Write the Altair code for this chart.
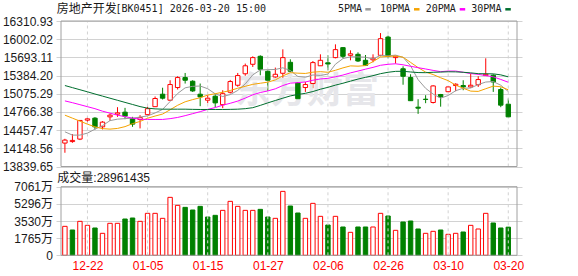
import altair as alt
import pandas as pd
import numpy as np

# ---------------- data ----------------
dates = ["12-17", "12-18", "12-19", "12-22", "12-23", "12-24", "12-25", "12-26", "12-29", "12-30", "12-31",
         "01-05", "01-06", "01-07", "01-08", "01-09", "01-12", "01-13", "01-14", "01-15", "01-16",
         "01-19", "01-20", "01-21", "01-22", "01-23", "01-26", "01-27", "01-28", "01-29", "01-30",
         "02-02", "02-03", "02-04", "02-05", "02-06", "02-09", "02-10", "02-11", "02-12", "02-13",
         "02-24", "02-25", "02-26", "02-27",
         "03-02", "03-03", "03-04", "03-05", "03-06", "03-09", "03-10", "03-11", "03-12", "03-13",
         "03-16", "03-17", "03-18", "03-19", "03-20"]

open_ = [14237.4, 14262.8, 14305.1, 14627.0, 14660.9, 14513.5, 14682.9, 14728.6, 14762.5, 14652.4,
         14638.9, 14720.2, 14855.7, 15067.4, 14965.8, 15180.9, 15350.3, 15287.7, 15067.4, 14965.8,
         15033.6, 14889.6, 15101.3, 15219.9, 15414.7, 15575.6, 15711.2, 15457.1, 15360.5, 15423.2,
         15609.5, 15258.9, 15180.9, 15248.7, 15550.2, 15601.0, 15689.1, 15858.5, 15728.1, 15745.0,
         15643.4, 15651.9, 15728.1, 16038.1, 15689.1, 15499.4, 15350.3, 14847.2, 14982.7, 14926.8,
         15062.4, 15109.8, 15214.8, 15214.8, 15191.1, 15228.4, 15384.2, 15389.3, 15147.1, 14898.0]
high = [14310.2, 14389.8, 14627.0, 14682.9, 14677.8, 14610.1, 14740.5, 14847.2, 14835.4, 14682.9,
        14711.7, 14855.7, 15028.5, 15177.5, 15304.6, 15372.4, 15428.3, 15304.6, 15248.7, 15050.5,
        15067.4, 15135.2, 15309.7, 15428.3, 15587.5, 15711.2, 15728.1, 15474.0, 15519.7, 15829.7,
        15660.3, 15321.5, 15275.8, 15631.5, 15745.0, 15728.1, 15914.4, 15868.7, 15812.8, 15778.9,
        15733.2, 15745.0, 16105.9, 16061.8, 15716.2, 15541.8, 15406.2, 14982.7, 15050.5, 15219.9,
        15072.5, 15197.9, 15253.8, 15304.6, 15418.1, 15372.4, 15677.3, 15406.2, 15180.9, 14994.6]
low = [14073.1, 14242.5, 14288.0, 14581.3, 14469.5, 14469.5, 14615.1, 14682.9, 14643.9, 14513.5,
       14486.4, 14711.7, 14852.3, 14977.7, 14957.3, 15147.1, 15248.7, 15106.4, 14864.2, 14915.0,
       14847.2, 14830.3, 15079.3, 15194.5, 15380.8, 15529.9, 15389.3, 15123.3, 15296.1, 15279.2,
       15275.8, 14982.7, 15106.4, 15169.1, 15546.8, 15474.0, 15677.3, 15677.3, 15643.4, 15614.6,
       15546.8, 15609.5, 15711.2, 15677.3, 15587.5, 15228.4, 14953.9, 14733.7, 14915.0, 14909.9,
       14855.7, 15106.4, 15118.3, 15135.2, 15180.9, 15191.1, 15380.8, 15106.4, 14847.2, 14682.9]
close = [14288.2, 14283.0, 14621.9, 14649.0, 14513.5, 14593.1, 14711.7, 14750.7, 14694.8, 14559.2,
         14672.7, 14821.8, 14994.6, 14999.7, 15231.8, 15350.3, 15304.6, 15123.3, 15021.7, 14999.7,
         14920.1, 15075.9, 15282.6, 15384.2, 15550.2, 15689.1, 15490.9, 15304.6, 15406.2, 15689.1,
         15457.1, 14991.2, 15231.8, 15604.4, 15643.4, 15580.7, 15824.7, 15711.2, 15753.5, 15631.5,
         15558.7, 15677.3, 16011.0, 15711.2, 15714.5, 15372.4, 14957.3, 14830.3, 14977.7, 15208.0,
         15021.7, 15191.1, 15236.8, 15191.1, 15219.9, 15316.5, 15406.2, 15275.8, 14881.1, 14682.9]

# volume in 万 (10k shares)
volume = [2982, 2605, 3496, 3085, 2811, 2262, 3291, 3291, 3736, 3839,
          3496, 4319, 4319, 3805, 5964, 5141, 4936, 4662, 5039, 3942,
          4113, 4627, 5553, 5039, 4627, 4627, 4730, 3942, 3805, 6581,
          5073, 4353, 3805, 5347, 4010, 3119, 4010, 2913, 2365, 2913,
          2913, 2913, 4319, 4045, 2571, 3428, 3530, 2708, 2262, 2468,
          2605, 2159, 2262, 2399, 3085, 2708, 4319, 3325, 2811, 2896.14]
vol_dir = ["up", "down", "up", "up", "down", "up", "up", "up", "down", "down",
           "up", "up", "up", "up", "up", "up", "down", "down", "down", "down",
           "down", "up", "up", "up", "up", "up", "down", "down", "up", "up",
           "down", "down", "up", "up", "up", "down", "up", "down", "up", "down",
           "down", "up", "up", "down", "up", "down", "down", "down", "up", "up",
           "down", "up", "up", "down", "up", "up", "up", "down", "down", "down"]

ma5 = [14428.8, 14372.9, 14372.9, 14406.8, 14472.9, 14533.8, 14618.5, 14643.9, 14652.4, 14662.6,
       14677.8, 14699.8, 14749.0, 14810.0, 14943.8, 15079.3, 15175.9, 15201.3, 15206.3, 15160.6,
       15074.2, 15028.5, 15060.7, 15131.8, 15241.9, 15396.1, 15479.1, 15484.2, 15487.6, 15516.3,
       15468.9, 15369.0, 15355.4, 15394.4, 15385.9, 15409.6, 15577.3, 15672.2, 15702.7, 15701.0,
       15695.9, 15667.1, 15726.4, 15717.9, 15731.5, 15694.2, 15550.2, 15314.8, 15167.4, 15069.1,
       14999.7, 15045.4, 15126.7, 15169.1, 15172.5, 15231.8, 15274.1, 15282.6, 15219.9, 15113.2]
ma10 = [14711.7, 14660.9, 14610.1, 14559.2, 14513.5, 14483.0, 14474.5, 14486.4, 14516.9, 14567.7,
        14605.0, 14659.2, 14696.5, 14730.3, 14803.2, 14879.4, 14938.7, 14976.0, 15008.1, 15052.2,
        15075.9, 15101.3, 15130.1, 15169.1, 15201.3, 15235.1, 15253.8, 15272.4, 15309.7, 15379.1,
        15433.3, 15424.9, 15419.8, 15441.8, 15450.3, 15440.1, 15474.0, 15514.7, 15548.5, 15543.5,
        15553.6, 15621.4, 15699.3, 15709.5, 15716.2, 15695.9, 15607.8, 15519.7, 15443.5, 15401.2,
        15346.9, 15297.8, 15221.6, 15169.1, 15120.0, 15114.9, 15160.6, 15204.7, 15194.5, 15142.0]
ma20 = [14953.9, 14923.4, 14889.6, 14855.7, 14821.8, 14779.5, 14745.6, 14711.7, 14686.3, 14660.9,
        14643.9, 14638.9, 14638.9, 14638.9, 14652.4, 14672.7, 14703.2, 14737.1, 14771.0, 14810.0,
        14840.4, 14881.1, 14913.3, 14950.6, 15001.4, 15057.3, 15096.2, 15123.3, 15158.9, 15214.8,
        15255.5, 15263.9, 15275.8, 15304.6, 15326.6, 15336.8, 15363.9, 15392.7, 15430.0, 15460.4,
        15492.6, 15523.1, 15558.7, 15575.6, 15584.1, 15567.2, 15541.8, 15518.0, 15496.0, 15472.3,
        15450.3, 15460.4, 15460.4, 15440.1, 15418.1, 15404.5, 15384.2, 15362.2, 15318.2, 15270.7]
ma30 = [15214.8, 15179.2, 15143.7, 15108.1, 15070.8, 15035.3, 14999.7, 14964.1, 14928.5, 14893.0,
        14857.4, 14830.3, 14818.4, 14813.3, 14813.3, 14813.3, 14813.3, 14810.0, 14808.3, 14808.3,
        14808.3, 14808.3, 14810.0, 14813.3, 14821.8, 14838.7, 14877.7, 14920.1, 14960.7, 14999.7,
        15038.6, 15062.4, 15082.7, 15113.2, 15152.1, 15184.3, 15221.6, 15253.8, 15289.4, 15324.9,
        15353.7, 15382.5, 15416.4, 15440.1, 15455.4, 15457.1, 15445.2, 15435.0, 15433.3, 15440.1,
        15443.5, 15448.6, 15446.9, 15440.1, 15430.0, 15416.4, 15414.7, 15413.0, 15396.1, 15362.2]

price_ticks = [13839.65, 14148.56, 14457.47, 14766.38, 15075.29, 15384.20, 15693.11, 16002.02, 16310.93]
vol_ticks = [0, 1765, 3530, 5296, 7061]
axis_dates = ["12-22", "01-05", "01-15", "01-27", "02-06", "02-26", "03-10", "03-20"]

title_name = "房地产开发"
title_code = "[BK0451] 2026-03-20 15:00"
vol_label = "成交量:28961435"
watermark_text = "东方财富"
ma_fields = ["ma5", "ma10", "ma20", "ma30"]
ma_names = ["5PMA", "10PMA", "20PMA", "30PMA"]
ma_colors = ["#9a9a9a", "#f5a300", "#ff00ff", "#006e2e"]

# ---------------- table ----------------
n = len(dates)
df = pd.DataFrame({"i": np.arange(n), "date": dates, "open": open_, "high": high, "low": low,
                   "close": close, "vol": volume, "vdir": vol_dir,
                   "ma5": ma5, "ma10": ma10, "ma20": ma20, "ma30": ma30})
df["dir"] = np.where(df["close"] >= df["open"], "up", "down")

UP, DOWN = "#ff0000", "#008000"
SANS = "Liberation Sans, Noto Sans CJK SC, sans-serif"
MONO = "DejaVu Sans Mono, monospace"
CJK = "Noto Sans CJK SC, sans-serif"
GRID = "#d2d2d2"
BORDER = "#a0a0a0"

W, H = 466, 235
x_lo, x_hi = -0.52, 60.16
p_lo, p_hi = price_ticks[0], price_ticks[-1]
v_lo, v_hi = vol_ticks[0], vol_ticks[-1]

tick_idx = [dates.index(d) for d in axis_dates]
label_js = "[" + ",".join("'%s'" % d for d in dates) + "][datum.value]"

xs = alt.Scale(domain=[x_lo, x_hi], nice=False, zero=False)
xaxis = alt.Axis(values=tick_idx, labelExpr=label_js, title=None, grid=False, domain=False,
                 ticks=False, tickSize=0, labelPadding=4, labelColor=UP, labelFont=SANS,
                 labelFontSize=12, labelFlush=False, labelOverlap=False)

ps = alt.Scale(domain=[p_lo, p_hi], range=[145.5, 0], nice=False, zero=False)
paxis = alt.Axis(values=price_ticks, format=".2f", orient="left", title=None, domain=False,
                 ticks=False, tickSize=0, labelPadding=3.5, labelFont=SANS, labelFontSize=12,
                 labelColor="#1a1a1a", grid=True, gridColor=GRID, gridWidth=1,
                 labelOverlap=False, labelFlush=False, labelSeparation=0)

vs = alt.Scale(domain=[v_lo, v_hi], range=[234.3, 165.7], nice=False, zero=True)
vaxis = alt.Axis(values=vol_ticks, labelExpr="datum.value == 0 ? '0' : datum.value + '万'",
                 orient="left", title=None, domain=False, ticks=False, tickSize=0,
                 labelPadding=3.5, labelFont=SANS, labelFontSize=12, labelColor="#1a1a1a",
                 grid=True, gridColor=GRID, gridWidth=1, labelOverlap=False, labelFlush=False)


def X():
    return alt.X("i:Q", scale=xs, axis=xaxis)


def PY(f):
    return alt.Y(f + ":Q", scale=ps, axis=paxis)


def VY(f):
    return alt.Y(f + ":Q", scale=vs, axis=vaxis)


dir_stroke = alt.Scale(domain=["up", "down"], range=[UP, DOWN])
dir_fill = alt.Scale(domain=["up", "down"], range=["#ffffff", DOWN])
one = pd.DataFrame({"k": [0]})
ticks_df = pd.DataFrame({"i": tick_idx})

# ---------------- price panel ----------------
vgrid_p = alt.Chart(ticks_df).mark_rule(color=GRID, strokeDash=[3, 3], strokeWidth=1).encode(
    x=X(), y=alt.YDatum(p_lo, scale=ps, axis=paxis), y2=alt.Y2Datum(p_hi))
wm = alt.Chart(pd.DataFrame({"t": [watermark_text]})).mark_text(
    font=CJK, fontSize=36, fontWeight="bold", color="#e6e6ea", align="center", baseline="middle"
).encode(x=alt.value(251), y=alt.value(71), text="t:N")
wicks = alt.Chart(df).mark_rule(strokeWidth=1).encode(
    x=X(), y=PY("low"), y2=alt.Y2("high"),
    color=alt.Color("dir:N", scale=dir_stroke, legend=None))
bodies = alt.Chart(df).mark_bar(size=4.4, strokeWidth=1).encode(
    x=X(), y=PY("open"), y2=alt.Y2("close"),
    fill=alt.Fill("dir:N", scale=dir_fill, legend=None),
    stroke=alt.Stroke("dir:N", scale=dir_stroke, legend=None))
ma_layers = [alt.Chart(df).mark_line(strokeWidth=1, color=c).encode(x=X(), y=PY(f))
             for f, c in zip(ma_fields, ma_colors)]
border_p = alt.Chart(one).mark_rect(fillOpacity=0, stroke=BORDER, strokeWidth=1).encode(
    x=alt.XDatum(x_lo, scale=xs, axis=xaxis), x2=alt.X2Datum(x_hi),
    y=alt.YDatum(p_lo, scale=ps, axis=paxis), y2=alt.Y2Datum(p_hi))
price_panel = alt.layer(wicks, vgrid_p, wm, bodies, *ma_layers, border_p)

# ---------------- volume panel ----------------
vgrid_v = alt.Chart(ticks_df).mark_rule(color=GRID, strokeDash=[3, 3], strokeWidth=1).encode(
    x=X(), y=alt.YDatum(v_lo, scale=vs, axis=vaxis), y2=alt.Y2Datum(v_hi))
vbars = alt.Chart(df).mark_bar(size=4.4, strokeWidth=1).encode(
    x=X(), y=VY("vol"),
    fill=alt.Fill("vdir:N", scale=dir_fill, legend=None),
    stroke=alt.Stroke("vdir:N", scale=dir_stroke, legend=None))
border_v = alt.Chart(one).mark_rect(fillOpacity=0, stroke=BORDER, strokeWidth=1).encode(
    x=alt.XDatum(x_lo, scale=xs, axis=xaxis), x2=alt.X2Datum(x_hi),
    y=alt.YDatum(v_lo, scale=vs, axis=vaxis), y2=alt.Y2Datum(v_hi))
vol_panel = alt.layer(vbars, vgrid_v, border_v)

# ---------------- texts ----------------
def txt(s, x, y, font, size, color="#1a1a1a", align="left"):
    return alt.Chart(pd.DataFrame({"t": [s]})).mark_text(
        font=font, fontSize=size, color=color, align=align, baseline="middle"
    ).encode(x=alt.value(x), y=alt.value(y), text="t:N")


text_layers = [
    txt(title_name, 0.7, -12.5, CJK, 12),
    txt(title_code, 59.5, -12.5, MONO, 10),
    txt(vol_label, 1.3, 156.7, SANS, 12),
]
leg_text_x = [282, 324, 369.7, 415.3]
leg_dash_x = [309.3, 358, 403.7, 449.3]
for name, col, tx, dx in zip(ma_names, ma_colors, leg_text_x, leg_dash_x):
    text_layers.append(txt(name, tx, -12, MONO, 10))
    text_layers.append(alt.Chart(one).mark_rule(color=col, strokeWidth=2.5).encode(
        x=alt.value(dx), x2=alt.value(dx + 5.5), y=alt.value(-11.7)))
texts = alt.layer(*text_layers)

chart = alt.layer(price_panel, vol_panel, texts).resolve_scale(
    y="independent"
).properties(
    width=W, height=H,
    autosize=alt.AutoSizeParams(type="none"),
    padding={"left": 56, "top": 21, "right": 56, "bottom": 20},
    background="#ffffff",
).configure_view(stroke=None).configure_axis(labelOverlap=False)

chart.save("out.html", embed_options={"renderer": "svg", "actions": False})
